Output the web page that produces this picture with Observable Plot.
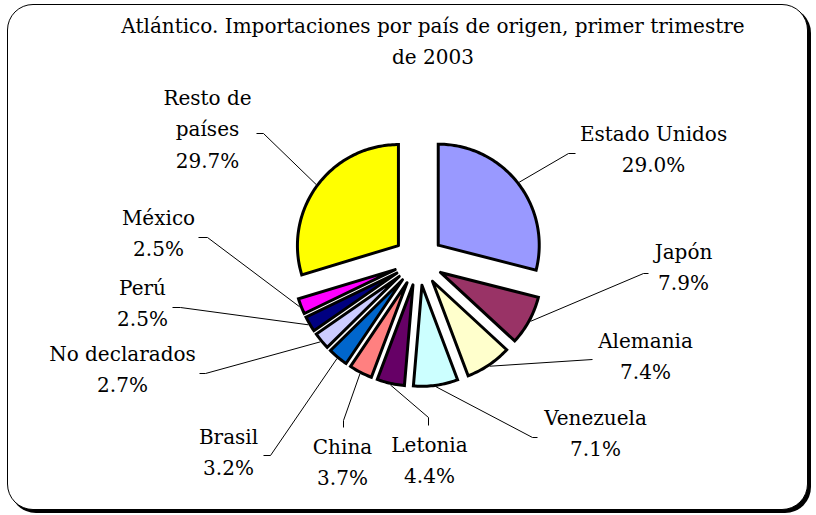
<!DOCTYPE html>
<html>
<head>
<meta charset="utf-8">
<script src="https://cdn.jsdelivr.net/npm/d3@7"></script>
<script src="https://cdn.jsdelivr.net/npm/@observablehq/plot@0.6"></script>
<style>
  html, body { margin: 0; padding: 0; background: #fff; }
  #wrap { position: relative; width: 816px; height: 515px; overflow: hidden; }
  #frame { position: absolute; left: 7px; top: 4px; width: 799px; height: 504px;
           border: 1.5px solid #000; border-radius: 26px; box-shadow: 3px 3px 0 #000; background: #fff; }
  #title { position: absolute; left: 83px; width: 700px; top: 11px; text-align: center;
           font-family: "DejaVu Serif"; font-size: 20px; line-height: 31px; color: #000; }
  #chart { position: absolute; left: 0; top: 0; }
</style>
</head>
<body>
<div id="wrap">
  <div id="frame"></div>
  <div id="chart"></div>
  <div id="title">Atlántico. Importaciones por país de origen, primer trimestre<br>de 2003</div>
</div>
<script>
// ---- data ----
const countries = ["Estado Unidos", "Japón", "Alemania", "Venezuela", "Letonia", "China",
                   "Brasil", "No declarados", "Perú", "México", "Resto de países"];
const shares = [29.0, 7.9, 7.4, 7.1, 4.4, 3.7, 3.2, 2.7, 2.5, 2.5, 29.7];
const colors = ["#9999FF", "#993366", "#FFFFCC", "#CCFFFF", "#660066", "#FF8080",
                "#0066CC", "#CCCCFF", "#000080", "#FF00FF", "#FFFF00"];
const labelLines = [["Estado Unidos"], ["Japón"], ["Alemania"], ["Venezuela"], ["Letonia"], ["China"],
                    ["Brasil"], ["No declarados"], ["Perú"], ["México"], ["Resto de", "países"]];

// ---- layout (pixel positions of pie and manually placed labels) ----
const cx = 418, cy = 260, R = 101, explode = 25;
// label: [center x, first baseline y]; leader: [elbow x, elbow y, end x, end y]
const labelAt = [[653,140],[683,258],[645,347],[595,424],[429,451],[342,453],[228,443],[122,360],[142,294],[158,224],[207,104]];
const leaderTo = [[568,153,575,153],[643,273,648,273],[592,359,592,359],[532,437,537,437],[428,417,428,425],
                  [343,420,343,427],[270,455,263,455],[205,373,199,373],[180,307,172,307],[207,237,198,237],[263,133,256,133]];

const fontSize = 20, lineGap = 31.5;

const total = d3.sum(shares);
const arcs = d3.pie().sort(null).value(d => d)(shares);
const dir = a => [Math.sin(a), -Math.cos(a)];

const slicePts = [];
const leaderPts = [];
const labels = [];
arcs.forEach((a, i) => {
  const mid = (a.startAngle + a.endAngle) / 2;
  const [ox, oy] = dir(mid).map(v => v * explode);
  const px = cx + ox, py = cy + oy;
  const name = countries[i];
  slicePts.push({name, color: colors[i], x: px, y: py});
  const n = Math.max(2, Math.ceil((a.endAngle - a.startAngle) / 0.02));
  for (let k = 0; k <= n; k++) {
    const t = a.startAngle + (a.endAngle - a.startAngle) * k / n;
    const [dx, dy] = dir(t);
    slicePts.push({name, color: colors[i], x: px + R * dx, y: py + R * dy});
  }
  slicePts.push({name, color: colors[i], x: px, y: py});
  const [mx, my] = dir(mid);
  const L = leaderTo[i];
  leaderPts.push({name, x: px + (R + 1.5) * mx, y: py + (R + 1.5) * my});
  leaderPts.push({name, x: L[0], y: L[1]});
  leaderPts.push({name, x: L[2], y: L[3]});
  const pct = (shares[i] / total * 100).toFixed(1) + "%";
  const lines = [...labelLines[i], pct];
  lines.forEach((t, j) => labels.push({text: t, x: labelAt[i][0], y: labelAt[i][1] + j * lineGap}));
});

const chart = Plot.plot({
  width: 816, height: 515, margin: 0,
  x: {domain: [0, 816], range: [0, 816], axis: null},
  y: {domain: [0, 515], range: [0, 515], axis: null},
  color: {type: "identity"},
  style: {background: "transparent", fontFamily: "DejaVu Serif", overflow: "visible"},
  marks: [
    Plot.line(leaderPts, {x: "x", y: "y", z: "name", stroke: "#000", strokeWidth: 1, curve: "linear", strokeLinecap: "butt", strokeLinejoin: "miter"}),
    Plot.line(slicePts, {x: "x", y: "y", z: "name", fill: "color", stroke: "#000", strokeWidth: 3, curve: "linear", strokeLinejoin: "miter", strokeMiterlimit: 4}),
    Plot.text(labels, {x: "x", y: "y", text: "text", fontSize, textAnchor: "middle", lineAnchor: "bottom", fill: "#000"})
  ]
});
document.getElementById("chart").appendChild(chart);
</script>
</body>
</html>
